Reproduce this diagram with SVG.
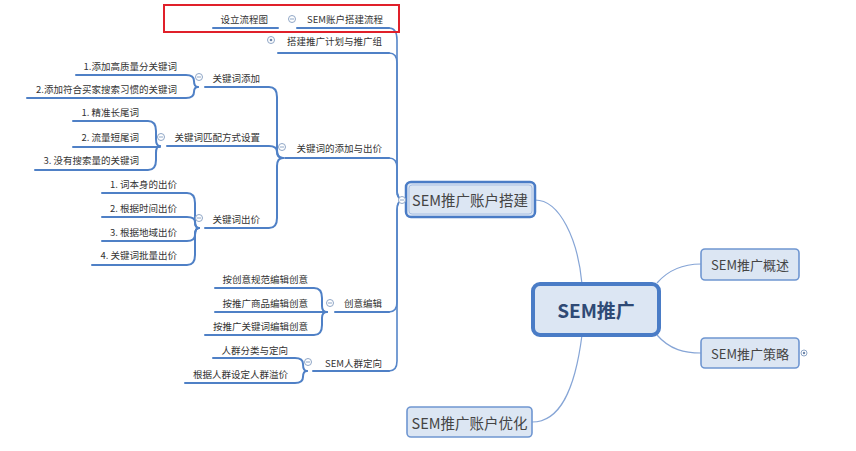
<svg xmlns="http://www.w3.org/2000/svg" width="856" height="451" viewBox="0 0 856 451">
<style>
.t{font-family:"Noto Sans CJK SC","Liberation Sans",sans-serif;font-size:9.5px;fill:#333;dominant-baseline:central;text-anchor:end}
.ul{fill:none;stroke:#4f80c6;stroke-width:2;stroke-linecap:round}
.tr{fill:none;stroke:#5585c9;stroke-width:1.6}
.cc{fill:none;stroke:#86a5d6;stroke-width:1.2}
.box{fill:#dce6f3;stroke:#6f96d1;stroke-width:1.6}
.bt{font-family:"Noto Sans CJK SC","Liberation Sans",sans-serif;fill:#444;dominant-baseline:central;text-anchor:middle}
.ci{fill:#fff;stroke:#8fa6c6;stroke-width:1}
.mn{stroke:#8fa6c6;stroke-width:1}
.dot{fill:#6d86ab}
</style>
<rect width="856" height="451" fill="#fff"/>
<g id="connectors">
<!-- central connectors -->
<path class="cc" d="M535 200 C560 200 578 240 582 284"/>
<path class="cc" d="M657 283 C670 268 685 264 701 264"/>
<path class="cc" d="M657 335 C670 350 685 353 701 353"/>
<path class="cc" d="M582 335 C575 390 560 422 532 422"/>
<!-- trunk level 1 -->
<path class="tr" d="M297 28 H389 Q397 28 397 40 V190 Q397 200 404 200"/>
<path class="tr" d="M278 53 H389 Q397 53 397 63 V190 Q397 200 404 200"/>
<path class="tr" d="M285 158 H389 Q397 158 397 168 V190 Q397 200 404 200"/>
<path class="tr" d="M335 312 H389 Q397 312 397 302 V210 Q397 200 404 200"/>
<path class="tr" d="M313 371 H389 Q397 371 397 361 V210 Q397 200 404 200"/>
<!-- SEM账户搭建流程 children -->
<path class="ul" d="M213 28 H278"/>
<!-- 关键词的添加与出价 children -->
<path class="ul" d="M205 87 H269 Q277 87 277 97 V150 Q277 158 283 158"/>
<path class="ul" d="M167 146 H269 Q277 146 277 152 Q277 158 283 158"/>
<path class="ul" d="M205 228 H269 Q277 228 277 218 V166 Q277 158 283 158"/>
<!-- 关键词添加 children -->
<path class="ul" d="M76 75 H186 Q194 75 194 81 Q194 87 198 87"/>
<path class="ul" d="M27 98 H186 Q194 98 194 92 Q194 87 198 87"/>
<!-- 匹配方式 children -->
<path class="ul" d="M73 121 H148 Q156 121 156 131 V139 Q156 146 160 146"/>
<path class="ul" d="M73 147 H160"/>
<path class="ul" d="M35 170 H148 Q156 170 156 160 V153 Q156 146 160 146"/>
<!-- 关键词出价 children -->
<path class="ul" d="M102 193 H187 Q195 193 195 203 V221 Q195 228 199 228"/>
<path class="ul" d="M102 217 H187 Q195 217 195 222 Q195 228 199 228"/>
<path class="ul" d="M102 241 H187 Q195 241 195 235 Q195 228 199 228"/>
<path class="ul" d="M92 265 H187 Q195 265 195 255 V235 Q195 228 199 228"/>
<!-- 创意编辑 children -->
<path class="ul" d="M215 288 H314 Q322 288 322 298 V306 Q322 312 327 312"/>
<path class="ul" d="M215 312 H327"/>
<path class="ul" d="M205 335 H314 Q322 335 322 325 V318 Q322 312 327 312"/>
<!-- SEM人群定向 children -->
<path class="ul" d="M213 358 H295 Q303 358 303 364 Q303 371 307 371"/>
<path class="ul" d="M185 383 H295 Q303 383 303 377 Q303 371 307 371"/>
<!-- level-1 underlines (thicker) -->
<path class="ul" d="M297 28 H389"/>
<path class="ul" d="M278 53 H389"/>
<path class="ul" d="M285 158 H389"/>
<path class="ul" d="M335 312 H389"/>
<path class="ul" d="M313 371 H389"/>
</g>
<g id="root">
<rect x="533" y="284" width="126" height="51" rx="7" fill="#dce6f3" stroke="#4a7cc6" stroke-width="4"/>
<text class="bt" x="596" y="309" font-size="19" font-weight="bold" fill="#2f4a75" style="fill:#2f4a75">SEM推广</text>
</g>
<g id="n-build">
<rect x="406" y="182" width="129" height="35" rx="5" fill="#dce6f3" stroke="#4a7cc6" stroke-width="2.5"/>
<rect x="409" y="185" width="123" height="29" rx="3" fill="none" stroke="#a9c0e4" stroke-width="1"/>
<text class="bt" x="470" y="199.5" font-size="14.5">SEM推广账户搭建</text>
<circle class="ci" cx="402" cy="200" r="3.5"/><line class="mn" x1="400" y1="200" x2="404" y2="200"/>
</g>
<g id="n-overview">
<rect class="box" x="701" y="249" width="98" height="31" rx="4"/>
<text class="bt" x="750" y="264.5" font-size="13">SEM推广概述</text>
</g>
<g id="n-strategy">
<rect class="box" x="701" y="338" width="98" height="30" rx="4"/>
<text class="bt" x="750" y="353" font-size="13">SEM推广策略</text>
<circle class="ci" cx="804" cy="353" r="3"/><circle class="dot" cx="804" cy="353" r="1.2"/>
</g>
<g id="n-optimize">
<rect class="box" x="407" y="407" width="125" height="30" rx="4"/>
<text class="bt" x="469.5" y="422" font-size="14.5">SEM推广账户优化</text>
</g>
<g id="n-flow">
<text class="t" x="383" y="19">SEM账户搭建流程</text>
<circle class="ci" cx="292" cy="19" r="3.5"/><line class="mn" x1="290" y1="19" x2="294" y2="19"/>
</g>
<g id="n-flowchart"><text class="t" x="268" y="19">设立流程图</text></g>
<g id="n-plan">
<text class="t" x="382" y="41">搭建推广计划与推广组</text>
<circle class="ci" cx="271" cy="40" r="3.5"/><circle class="dot" cx="271" cy="40" r="1.3"/>
</g>
<g id="n-kwbid">
<text class="t" x="382" y="148">关键词的添加与出价</text>
<circle class="ci" cx="282" cy="147" r="3.5"/><line class="mn" x1="280" y1="147" x2="284" y2="147"/>
</g>
<g id="n-kwadd">
<text class="t" x="260" y="78">关键词添加</text>
<circle class="ci" cx="199" cy="77" r="3.5"/><line class="mn" x1="197" y1="77" x2="201" y2="77"/>
</g>
<g id="n-kwadd1"><text class="t" x="177" y="66">1.添加高质量分关键词</text></g>
<g id="n-kwadd2"><text class="t" x="177" y="89">2.添加符合买家搜索习惯的关键词</text></g>
<g id="n-match">
<text class="t" x="260" y="137">关键词匹配方式设置</text>
<circle class="ci" cx="161" cy="137" r="3.5"/><line class="mn" x1="159" y1="137" x2="163" y2="137"/>
</g>
<g id="n-match1"><text class="t" x="139" y="112">1. 精准长尾词</text></g>
<g id="n-match2"><text class="t" x="139" y="137">2. 流量短尾词</text></g>
<g id="n-match3"><text class="t" x="139" y="160">3. 没有搜索量的关键词</text></g>
<g id="n-bid">
<text class="t" x="260" y="219">关键词出价</text>
<circle class="ci" cx="199" cy="218" r="3.5"/><line class="mn" x1="197" y1="218" x2="201" y2="218"/>
</g>
<g id="n-bid1"><text class="t" x="177" y="184">1. 词本身的出价</text></g>
<g id="n-bid2"><text class="t" x="177" y="208">2. 根据时间出价</text></g>
<g id="n-bid3"><text class="t" x="177" y="232">3. 根据地域出价</text></g>
<g id="n-bid4"><text class="t" x="177" y="255">4. 关键词批量出价</text></g>
<g id="n-creative">
<text class="t" x="382" y="303">创意编辑</text>
<circle class="ci" cx="330" cy="303" r="3.5"/><line class="mn" x1="328" y1="303" x2="332" y2="303"/>
</g>
<g id="n-cr1"><text class="t" x="308" y="279">按创意规范编辑创意</text></g>
<g id="n-cr2"><text class="t" x="308" y="303">按推广商品编辑创意</text></g>
<g id="n-cr3"><text class="t" x="308" y="326">按推广关键词编辑创意</text></g>
<g id="n-crowd">
<text class="t" x="382" y="363">SEM人群定向</text>
<circle class="ci" cx="308" cy="362" r="3.5"/><line class="mn" x1="306" y1="362" x2="310" y2="362"/>
</g>
<g id="n-crowd1"><text class="t" x="288" y="350">人群分类与定向</text></g>
<g id="n-crowd2"><text class="t" x="288" y="374">根据人群设定人群溢价</text></g>
<g id="highlight">
<rect x="164" y="5" width="235" height="27" fill="none" stroke="#e0202a" stroke-width="2"/>
</g>
</svg>
